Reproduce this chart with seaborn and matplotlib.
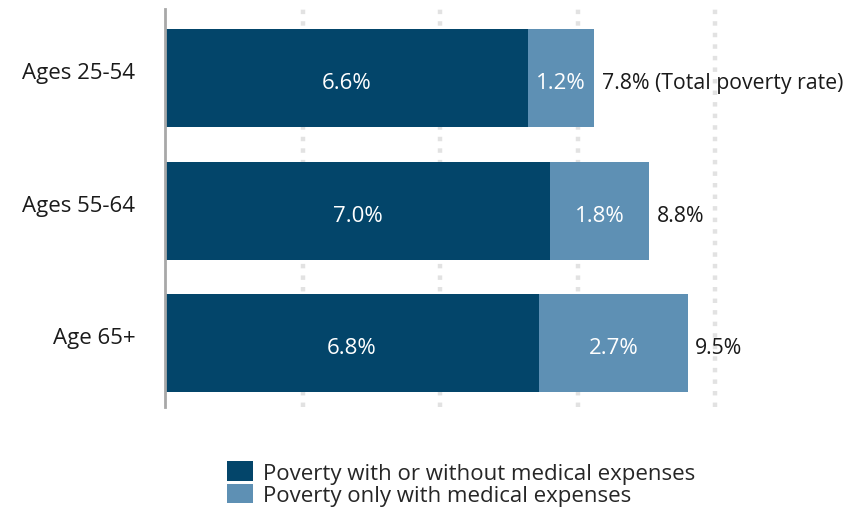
import matplotlib
matplotlib.use("Agg")
import matplotlib.pyplot as plt
from matplotlib.patches import Patch
from matplotlib.transforms import ScaledTranslation
import seaborn as sns
import pandas as pd

groups = ["Ages 25-54", "Ages 55-64", "Age 65+"]
base_rate = [6.6, 7.0, 6.8]      # poverty with or without medical expenses
medical_only = [1.2, 1.8, 2.7]   # poverty only with medical expenses
total_rate = [7.8, 8.8, 9.5]
total_suffix = [" (Total poverty rate)", "", ""]
series_names = ["Poverty with or without medical expenses",
                "Poverty only with medical expenses"]

DARK = "#03456a"
LIGHT = "#5e90b4"
TEXT = "#1a1a1a"
FS = 16
FS_TOTAL = 15.3

sns.set_theme(style="white")
plt.rcParams["font.family"] = ["Open Sans", "DejaVu Sans"]

df = pd.DataFrame({"group": groups, "base": base_rate,
                   "medical": medical_only, "total": total_rate})

fig = plt.figure(figsize=(8.48, 5.10), dpi=100)
ax = fig.add_axes([165 / 848, 1 - 408 / 510, (825 - 165) / 848, 398 / 510])

# stacked bars: full total in light, base share drawn over it in dark
sns.barplot(data=df, y="group", x="total", color=LIGHT, orient="h",
            width=0.74, saturation=1, ax=ax)
sns.barplot(data=df, y="group", x="base", color=DARK, orient="h",
            width=0.74, saturation=1, ax=ax)
for p in ax.patches:
    p.set_edgecolor("none")

ax.set_xlim(0, 12)
ax.set_ylim(2.48, -0.52)
for gx in [2.5, 5, 7.5, 10]:
    ax.axvline(gx, color="#e2e2e2", lw=3.2, ls=(0, (1.0, 1.6)), zorder=0)
ax.set_xticks([])
ax.set_xlabel("")
ax.set_ylabel("")
for side in ["top", "right", "bottom"]:
    ax.spines[side].set_visible(False)
ax.spines["left"].set_color("#a8a8a8")
ax.spines["left"].set_linewidth(2)
ax.tick_params(axis="y", length=0, pad=21.5, labelsize=FS, labelcolor=TEXT)
lift = ScaledTranslation(0, 8 / 100, fig.dpi_scale_trans)
for lbl in ax.get_yticklabels():
    lbl.set_transform(lbl.get_transform() + lift)

for i, (b, m, t, suf) in enumerate(zip(base_rate, medical_only, total_rate, total_suffix)):
    ax.text(b / 2, i + 0.035, f"{b:.1f}%", color="white", ha="center", va="center", fontsize=FS)
    ax.text(b + m / 2, i + 0.035, f"{m:.1f}%", color="white", ha="center", va="center", fontsize=FS)
    ax.text(t + 0.14, i + 0.035, f"{t:.1f}%{suf}", color=TEXT, ha="left", va="center", fontsize=FS_TOTAL)

handles = [Patch(facecolor=DARK, edgecolor="none"), Patch(facecolor=LIGHT, edgecolor="none")]
fig.legend(handles, series_names, loc="upper left",
           bbox_to_anchor=(227 / 848, 1 - 462 / 510), frameon=False,
           fontsize=FS, handlelength=1.15, handleheight=1.0,
           handletextpad=0.45, labelspacing=0.0, borderaxespad=0, borderpad=0)

fig.savefig("out.png", dpi=100)
